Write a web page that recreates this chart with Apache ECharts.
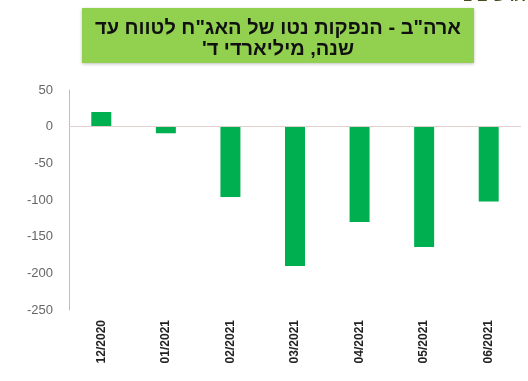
<!DOCTYPE html>
<html><head><meta charset="utf-8">
<script src="https://cdn.jsdelivr.net/npm/echarts@6/dist/echarts.min.js"></script>
<style>html,body{margin:0;padding:0;background:#fff}#c{width:528px;height:381px}</style>
</head><body><div id="c"></div>
<script>
const categories = ['12/2020','01/2021','02/2021','03/2021','04/2021','05/2021','06/2021'];
const netIssuance = [20, -9, -96, -190, -130, -164, -102];
const titleLines = ['ארה"ב - הנפקות נטו של האג"ח לטווח עד', 'שנה, מיליארדי ד\''];
const yTicks = {min: -250, max: 50, interval: 50};

const RLM = '\u200F';
const chart = echarts.init(document.getElementById('c'));
chart.setOption({
  animation: false,
  backgroundColor: '#fff',
  graphic: [
    {type: 'rect', shape: {x: 82, y: 8, width: 392, height: 55}, style: {fill: '#92d050', shadowBlur: 3, shadowColor: 'rgba(0,0,0,0.25)', shadowOffsetY: 1}},
    {type: 'text', x: 278, y: 28, style: {text: RLM + titleLines[0] + RLM, font: 'bold 20px "Liberation Sans", Arial', fill: '#111', align: 'center', verticalAlign: 'middle'}},
    {type: 'text', x: 278, y: 49, style: {text: RLM + titleLines[1] + RLM, font: 'bold 20px "Liberation Sans", Arial', fill: '#111', align: 'center', verticalAlign: 'middle'}},
    {type: 'text', x: 526, y: -11, style: {text: RLM + 'תרשים 1' + RLM, font: 'bold 16px "Liberation Sans", Arial', fill: '#4a4a1a', align: 'right', verticalAlign: 'top'}}
  ],
  grid: {left: 69, right: 7, top: 90, bottom: 71, containLabel: false},
  xAxis: {
    type: 'category', data: categories,
    axisLine: {show: false}, axisTick: {show: false},
    axisLabel: {rotate: 90, margin: 10, color: '#222', fontSize: 12, fontWeight: 'bold', fontFamily: 'Liberation Sans, Arial', interval: 0}
  },
  yAxis: {
    type: 'value', min: yTicks.min, max: yTicks.max, interval: yTicks.interval,
    axisLine: {show: true, lineStyle: {color: '#bfbfbf'}},
    axisTick: {show: false}, splitLine: {show: false},
    axisLabel: {color: '#666', fontSize: 13, fontFamily: 'Liberation Sans, Arial', margin: 16}
  },
  series: [{
    type: 'bar', data: netIssuance, barWidth: 20,
    itemStyle: {color: '#00b050'},
    markLine: {silent: true, symbol: 'none', label: {show: false},
      lineStyle: {color: '#e0d0d0', type: 'solid', width: 1}, data: [{yAxis: 0}]}
  }]
});
</script></body></html>
